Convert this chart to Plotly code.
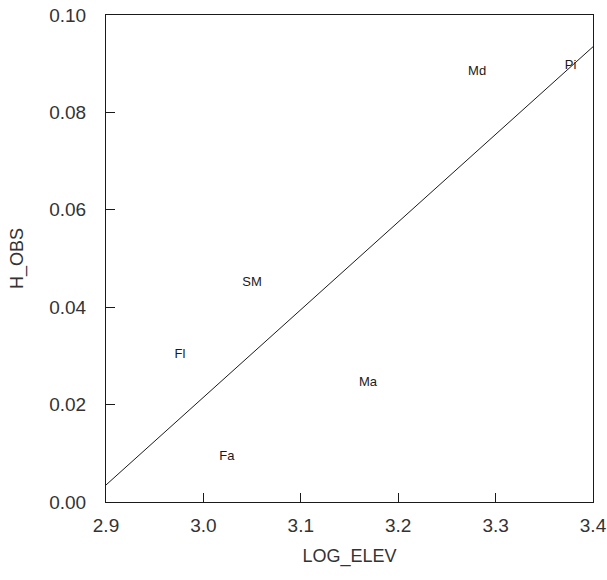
import numpy as np
import plotly.graph_objects as go

# Data
sites = ["Md", "Pi", "SM", "Fl", "Ma", "Fa"]
log_elev = [3.281, 3.377, 3.050, 2.976, 3.169, 3.024]
h_obs = [0.0883, 0.0895, 0.0450, 0.0303, 0.0245, 0.0092]

x_ticks = [2.9, 3.0, 3.1, 3.2, 3.3, 3.4]
y_ticks = [0.00, 0.02, 0.04, 0.06, 0.08, 0.10]

# Least-squares fit line drawn across the x range
slope, intercept = np.polyfit(log_elev, h_obs, 1)
fit_x = [x_ticks[0], x_ticks[-1]]
fit_y = [slope * v + intercept for v in fit_x]

ink = "#1a1a1a"
font_family = "Liberation Sans, Arial, sans-serif"

fig = go.Figure()
fig.add_trace(go.Scatter(
    x=fit_x, y=fit_y, mode="lines",
    line=dict(color=ink, width=1), showlegend=False, hoverinfo="skip",
    cliponaxis=False))
fig.add_trace(go.Scatter(
    x=log_elev, y=h_obs, mode="text", text=sites,
    textposition="middle center",
    textfont=dict(family=font_family, size=13, color=ink),
    showlegend=False))

axis_common = dict(
    showline=True, linecolor=ink, linewidth=1, mirror=True,
    ticks="inside", ticklen=9, tickcolor=ink, tickwidth=1,
    showgrid=False, zeroline=False, automargin=False,
    ticklabeloverflow="allow",
    tickfont=dict(family=font_family, size=19, color="#333"),
)

fig.update_xaxes(
    range=[2.9, 3.4], tickvals=x_ticks,
    ticktext=[f"{v:.1f}" for v in x_ticks],
    ticklabelstandoff=6,
    title=dict(text="LOG_ELEV", standoff=14,
               font=dict(family=font_family, size=18, color="#333")),
    **axis_common)
fig.update_yaxes(
    range=[0.0, 0.1], tickvals=y_ticks,
    ticktext=[f"{v:.2f}" for v in y_ticks],
    ticklabelstandoff=15,
    title=dict(text="H_OBS", standoff=20,
               font=dict(family=font_family, size=18, color="#333")),
    **axis_common)

fig.update_layout(
    width=607, height=580,
    margin=dict(l=106, r=14, t=15, b=78),
    plot_bgcolor="white", paper_bgcolor="white",
    font=dict(family=font_family, color=ink),
)

# remove the page's default body margin so the figure fills the window exactly
fig.write_html("out.html",
               config={"displayModeBar": False},
               post_script="document.body.style.margin='0';"
                           "document.body.style.overflow='hidden';")
